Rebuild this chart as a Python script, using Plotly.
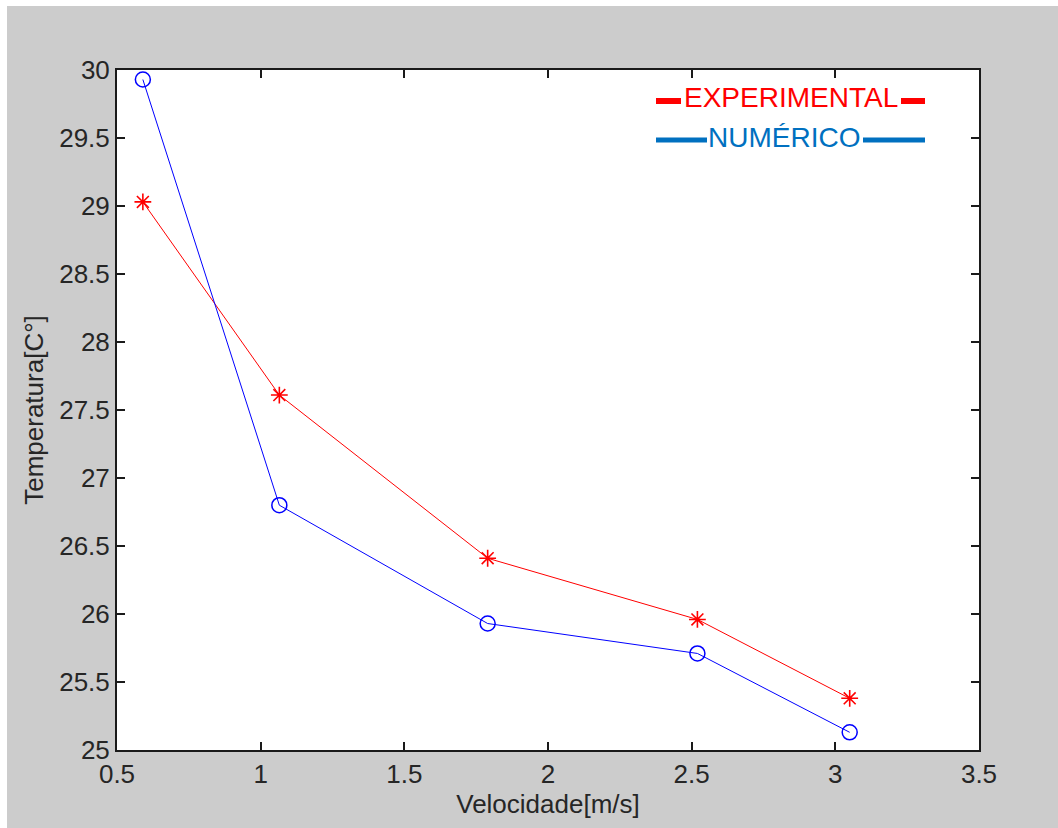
import plotly.graph_objects as go

# Measured data
velocidade = [0.59, 1.065, 1.79, 2.52, 3.05]
temp_experimental = [29.03, 27.61, 26.41, 25.96, 25.38]
temp_numerico = [29.93, 26.80, 25.93, 25.71, 25.13]

x_ticks = [0.5, 1, 1.5, 2, 2.5, 3, 3.5]
y_ticks = [25, 25.5, 26, 26.5, 27, 27.5, 28, 28.5, 29, 29.5, 30]

W, H = 1058, 828
ML, MR, MT, MB = 117, 79, 70, 78
PW, PH = W - ML - MR, H - MT - MB


def px(x):
    return (x - ML) / PW


def py(y):
    return (H - MB - y) / PH


fig = go.Figure()

fig.add_trace(go.Scatter(
    x=velocidade, y=temp_experimental, mode="lines+markers",
    line=dict(color="#FF0000", width=1),
    marker=dict(symbol="asterisk-open", size=14, color="#FF0000",
                line=dict(color="#FF0000", width=1.6)),
    showlegend=False,
))
fig.add_trace(go.Scatter(
    x=velocidade, y=temp_numerico, mode="lines+markers",
    line=dict(color="#0000FF", width=1),
    marker=dict(symbol="circle-open", size=15, color="#0000FF",
                line=dict(color="#0000FF", width=1.5)),
    showlegend=False,
))

axis_font = dict(family="Liberation Sans, Arial, sans-serif", size=26, color="#262626")

shapes = [
    # white strip along top and left edges
    dict(type="rect", xref="paper", yref="paper", x0=px(0), x1=px(W), y0=py(6), y1=py(0),
         fillcolor="white", line=dict(width=0), layer="below"),
    dict(type="rect", xref="paper", yref="paper", x0=px(0), x1=px(7), y0=py(H), y1=py(0),
         fillcolor="white", line=dict(width=0), layer="below"),
    # legend line segments
    dict(type="line", xref="paper", yref="paper", x0=px(656), x1=px(681), y0=py(101), y1=py(101),
         line=dict(color="#FF0000", width=6)),
    dict(type="line", xref="paper", yref="paper", x0=px(901), x1=px(925), y0=py(101), y1=py(101),
         line=dict(color="#FF0000", width=6)),
    dict(type="line", xref="paper", yref="paper", x0=px(656), x1=px(707), y0=py(140), y1=py(140),
         line=dict(color="#0070C0", width=5)),
    dict(type="line", xref="paper", yref="paper", x0=px(863), x1=px(925), y0=py(140), y1=py(140),
         line=dict(color="#0070C0", width=5)),
]

annotations = [
    dict(text="EXPERIMENTAL", xref="paper", yref="paper", x=px(791), y=py(98),
         showarrow=False, xanchor="center", yanchor="middle",
         font=dict(family="Liberation Sans, Arial, sans-serif", size=28, color="#FF0000")),
    dict(text="NUMÉRICO", xref="paper", yref="paper", x=px(784), y=py(137),
         showarrow=False, xanchor="center", yanchor="middle",
         font=dict(family="Liberation Sans, Arial, sans-serif", size=28, color="#0070C0")),
]

fig.update_layout(
    width=W, height=H,
    margin=dict(l=ML, r=MR, t=MT, b=MB),
    paper_bgcolor="#CCCCCC",
    plot_bgcolor="white",
    shapes=shapes,
    annotations=annotations,
    xaxis=dict(
        range=[0.5, 3.5], tickvals=x_ticks, ticktext=[f"{v:g}" for v in x_ticks],
        showgrid=False, zeroline=False, showline=True, linecolor="#1a1a1a", linewidth=2,
        mirror="ticks", ticks="inside", ticklen=8, tickcolor="#1a1a1a", tickwidth=1.5,
        tickfont=axis_font,
        title=dict(text="Velocidade[m/s]", font=axis_font, standoff=6),
    ),
    yaxis=dict(
        range=[25, 30], tickvals=y_ticks, ticktext=[f"{v:g}" for v in y_ticks],
        showgrid=False, zeroline=False, showline=True, linecolor="#1a1a1a", linewidth=2,
        mirror="ticks", ticks="inside", ticklen=8, tickcolor="#1a1a1a", tickwidth=1.5,
        tickfont=axis_font,
        title=dict(text="Temperatura[C°]", font=axis_font, standoff=8),
    ),
)

fig.write_html("out.html")
